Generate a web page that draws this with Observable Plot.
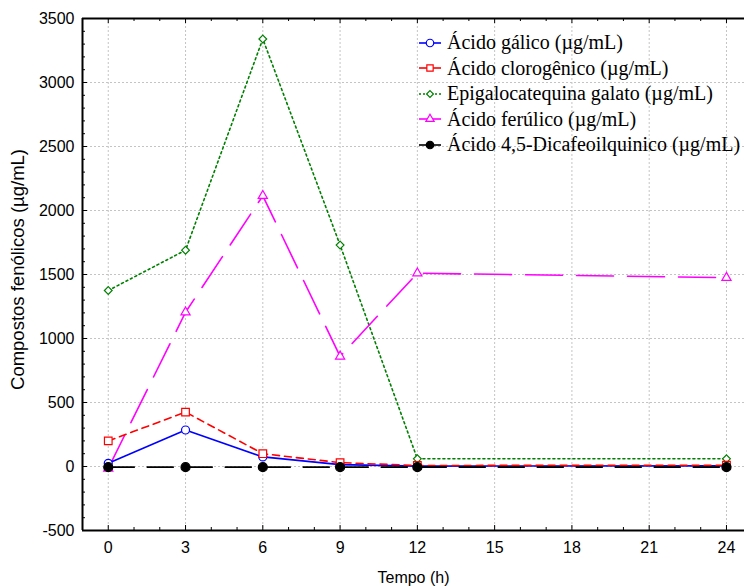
<!DOCTYPE html>
<html>
<head>
<meta charset="utf-8">
<script src="https://cdn.jsdelivr.net/npm/d3@7"></script>
<script src="https://cdn.jsdelivr.net/npm/@observablehq/plot@0.6"></script>
<style>
  body { margin: 0; background: #fff; }
  #wrap { position: relative; width: 744px; height: 586px; overflow: hidden; }
  #legend { position: absolute; left: 418px; top: 30px; font-family: "Liberation Serif", "Times New Roman", serif; font-size: 20px; color: #000; }
  .item { display: flex; align-items: center; white-space: nowrap; height: 25.5px; }
  .item svg { margin-right: 5px; flex: none; }
</style>
</head>
<body>
<div id="wrap"><div id="legend"></div></div>
<script>
// ---- data ----
const tempo = [0, 3, 6, 9, 12, 24];
const acidoGalico = [25, 285, 75, 15, 3, 5];
const acidoClorogenico = [200, 425, 100, 30, 8, 10];
const epigalocatequinaGalato = [1375, 1690, 3340, 1730, 60, 60];
const acidoFerulico = [-15, 1205, 2115, 860, 1510, 1475];
const acidoDicafeoilquinico = [-5, -5, -5, -5, -5, -5];

const seriesNames = [
  "Ácido gálico (µg/mL)",
  "Ácido clorogênico (µg/mL)",
  "Epigalocatequina galato (µg/mL)",
  "Ácido ferúlico (µg/mL)",
  "Ácido 4,5-Dicafeoilquinico (µg/mL)"
];
const seriesValues = [acidoGalico, acidoClorogenico, epigalocatequinaGalato, acidoFerulico, acidoDicafeoilquinico];
const seriesColors = ["#0000ff", "#ff0000", "#008000", "#ff00ff", "#000000"];
const seriesDash = [null, "7,5", "2,3", "37,14", "26,13"];
const seriesSymbols = ["circle", "square", "diamond2", "triangle", "circle"];
const seriesFill = ["#fff", "#fff", "#fff", "#fff", "#000"];
const seriesR = [4, 4.3, 3.5, 3.4, 4.5];

const xTicks = [0, 3, 6, 9, 12, 15, 18, 21, 24];
const xMinorTicks = [1, 2, 4, 5, 7, 8, 10, 11, 13, 14, 16, 17, 19, 20, 22, 23];
const yTicks = [-500, 0, 500, 1000, 1500, 2000, 2500, 3000, 3500];
const yMinorTicks = [-400, -300, -200, -100, 100, 200, 300, 400, 600, 700, 800, 900,
  1100, 1200, 1300, 1400, 1600, 1700, 1800, 1900, 2100, 2200, 2300, 2400,
  2600, 2700, 2800, 2900, 3100, 3200, 3300, 3400];

const xLabel = "Tempo (h)";
const yLabel = "Compostos fenólicos (µg/mL)";

// ---- build ----
const xDomain = [-1.0, 24.7];
const yDomain = [-500, 3500];
const W = 744, H = 586, ML = 82, MR = 0, MT = 18, MB = 56;
const fw = W - ML - MR, fh = H - MT - MB;

const order = [2, 3, 0, 1, 4];
const seriesMarks = order.flatMap(i => {
  const rows = tempo.map((t, j) => ({t, v: seriesValues[i][j]}));
  return [
    Plot.line(rows, {x: "t", y: "v", stroke: seriesColors[i], strokeWidth: 1.6, strokeDasharray: seriesDash[i]}),
    Plot.dot(rows, {x: "t", y: "v", stroke: seriesColors[i], fill: seriesFill[i], symbol: seriesSymbols[i], r: seriesR[i], strokeWidth: 1.2})
  ];
});

const gridStyle = {stroke: "#c4c4c4", strokeOpacity: 1, strokeDasharray: "2,2", strokeWidth: 1};
const fmt = d => String(d);

const chart = Plot.plot({
  width: W, height: H,
  marginLeft: ML, marginRight: MR, marginTop: MT, marginBottom: MB,
  x: {domain: xDomain},
  y: {domain: yDomain},
  style: {fontFamily: "'Liberation Sans', Arial, sans-serif", fontSize: "16px", color: "#000", background: "#fff", overflow: "visible"},
  marks: [
    Plot.gridX(xTicks, gridStyle),
    Plot.gridY(yTicks, gridStyle),
    // inward tick marks
    Plot.tickX(xTicks, {stroke: "#000", insetTop: fh - 5}),
    Plot.tickX(xMinorTicks, {stroke: "#000", insetTop: fh - 3}),
    Plot.tickX(xTicks, {stroke: "#000", insetBottom: fh - 5}),
    Plot.tickX(xMinorTicks, {stroke: "#000", insetBottom: fh - 3}),
    Plot.tickY(yTicks, {stroke: "#000", insetRight: fw - 5}),
    Plot.tickY(yMinorTicks, {stroke: "#000", insetRight: fw - 3}),
    // frame lines
    Plot.ruleX([xDomain[0]], {stroke: "#000", strokeWidth: 2}),
    Plot.ruleY([yDomain[0]], {stroke: "#000", strokeWidth: 2}),
    Plot.ruleY([yDomain[1]], {stroke: "#000", strokeWidth: 2}),
    // tick labels
    Plot.axisX(xTicks, {anchor: "bottom", tickSize: 0, tickPadding: 11, label: null, tickFormat: fmt, fontSize: 16}),
    Plot.axisY(yTicks, {anchor: "left", tickSize: 0, tickPadding: 8, label: null, tickFormat: fmt, fontSize: 16}),
    // titles
    Plot.text([xLabel], {text: d => d, frameAnchor: "bottom", textAnchor: "middle", dy: 47, lineAnchor: "middle", fontSize: 16}),
    Plot.text([yLabel], {text: d => d, frameAnchor: "left", textAnchor: "middle", dx: -64, dy: -5, rotate: -90, lineAnchor: "middle", fontSize: 18.5}),
    ...seriesMarks
  ]
});
document.getElementById("wrap").prepend(chart);

// ---- legend ----
const legend = document.getElementById("legend");
const symPath = {
  circle: d3.symbol(d3.symbolCircle, 44)(),
  square: d3.symbol(d3.symbolSquare, 40)(),
  diamond2: d3.symbol(d3.symbolDiamond2, 30)(),
  triangle: d3.symbol(d3.symbolTriangle, 30)()
};
seriesNames.forEach((name, i) => {
  const item = document.createElement("div");
  item.className = "item";
  const ns = "http://www.w3.org/2000/svg";
  const svg = document.createElementNS(ns, "svg");
  svg.setAttribute("width", 24); svg.setAttribute("height", 14);
  const ln = document.createElementNS(ns, "line");
  ln.setAttribute("x1", 1); ln.setAttribute("x2", 23); ln.setAttribute("y1", 7); ln.setAttribute("y2", 7);
  ln.setAttribute("stroke", seriesColors[i]); ln.setAttribute("stroke-width", 1.6);
  if (i === 2) ln.setAttribute("stroke-dasharray", "2,2");
  svg.appendChild(ln);
  const p = document.createElementNS(ns, "path");
  p.setAttribute("d", symPath[seriesSymbols[i]]);
  p.setAttribute("transform", "translate(12,7)");
  p.setAttribute("stroke", seriesColors[i]); p.setAttribute("fill", seriesFill[i]);
  p.setAttribute("stroke-width", 1.2);
  svg.appendChild(p);
  item.appendChild(svg);
  const span = document.createElement("span");
  span.textContent = name;
  item.appendChild(span);
  legend.appendChild(item);
});
</script>
</body>
</html>
